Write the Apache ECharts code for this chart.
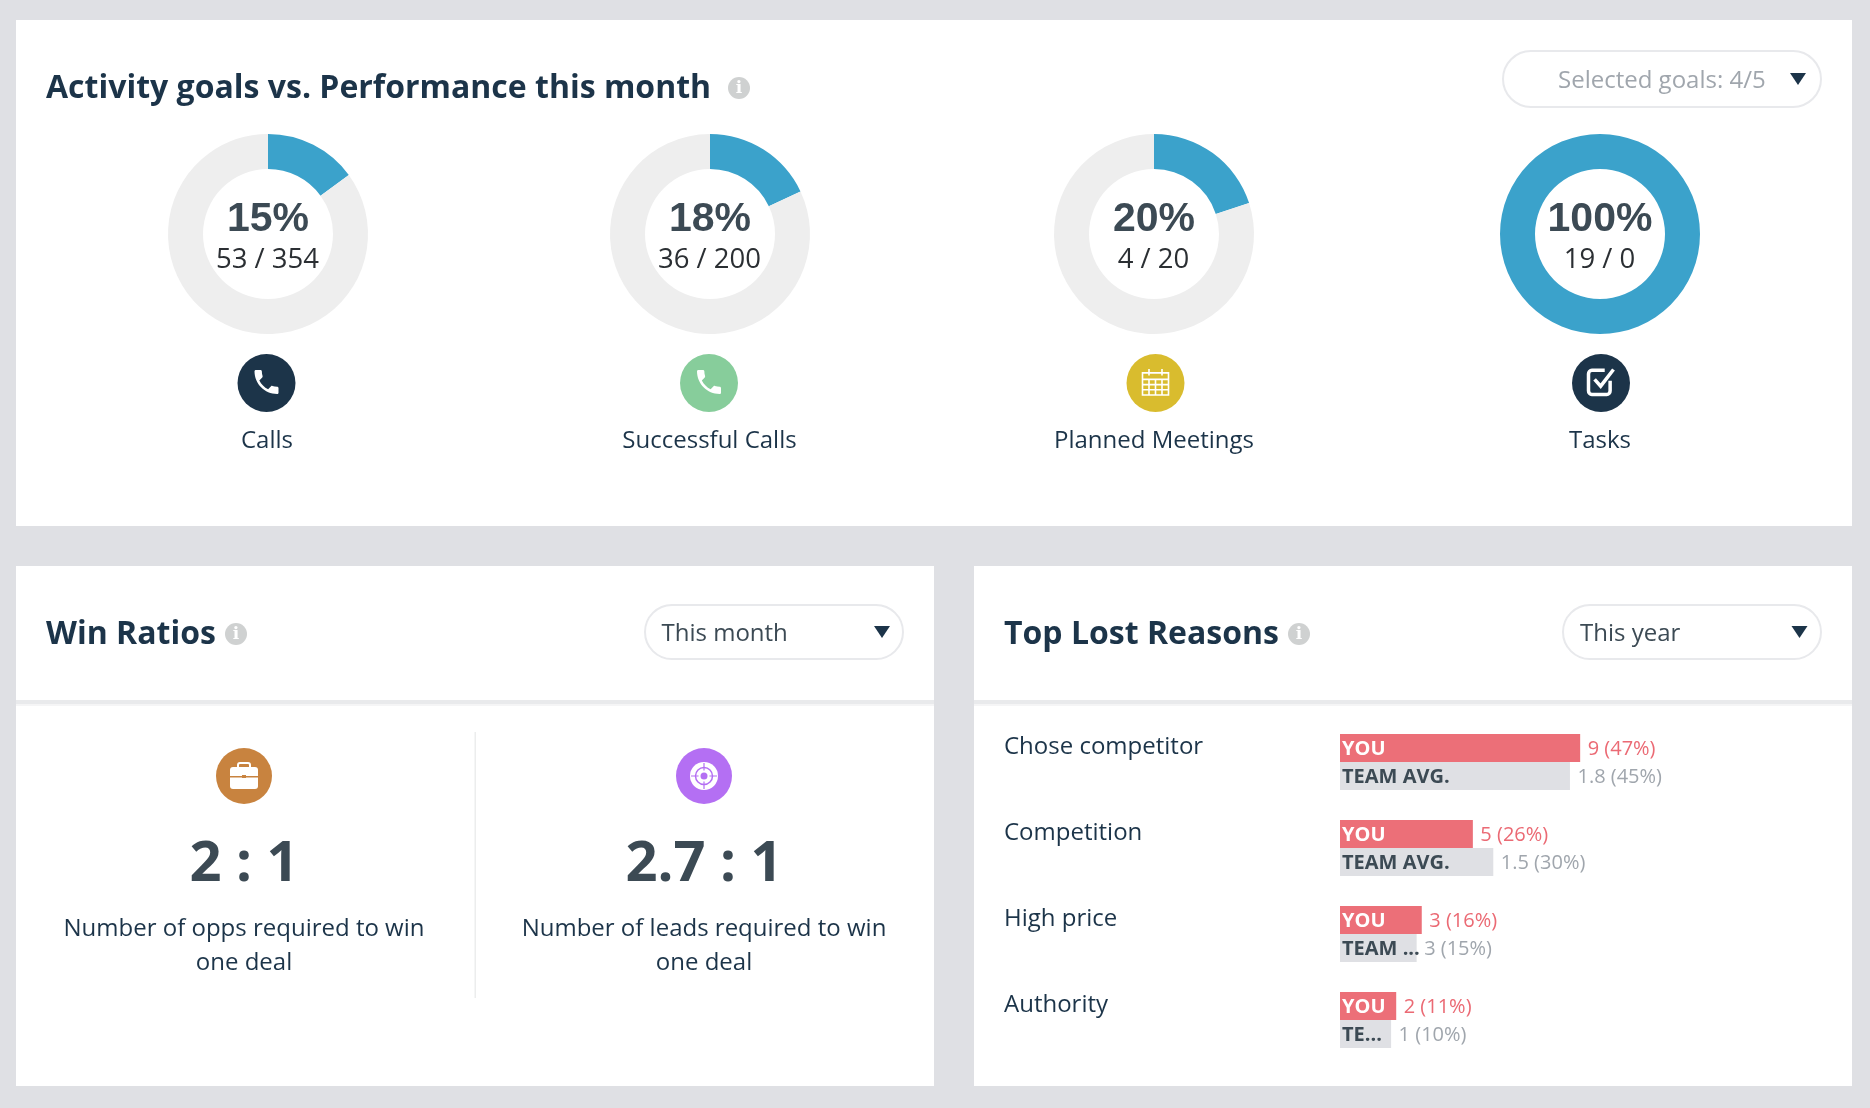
<!DOCTYPE html>
<html>
<head>
<meta charset="utf-8">
<style>html,body{margin:0;padding:0;background:#dfe0e4}#c{width:1870px;height:1108px}</style>
<script src="https://cdn.jsdelivr.net/npm/echarts@6/dist/echarts.min.js"></script>
</head>
<body>
<div id="c"></div>
<script>
// ---- data ----
const goalNames = ['Calls', 'Successful Calls', 'Planned Meetings', 'Tasks'];
const goalDone = [53, 36, 4, 19];
const goalTarget = [354, 200, 20, 0];
const goalPercent = ['15%', '18%', '20%', '100%'];
const ratioTexts = ['2 : 1', '2.7 : 1'];
const ratioCaptions = ['Number of opps required to win\none deal', 'Number of leads required to win\none deal'];
const reasons = ['Chose competitor', 'Competition', 'High price', 'Authority'];
const youPct = [47, 26, 16, 11];
const youLabels = ['9 (47%)', '5 (26%)', '3 (16%)', '2 (11%)'];
const teamPct = [45, 30, 15, 10];
const teamLabels = ['1.8 (45%)', '1.5 (30%)', '3 (15%)', '1 (10%)'];
const teamNames = ['TEAM AVG.', 'TEAM AVG.', 'TEAM ...', 'TE...'];

// ---- style ----
const F = '"Open Sans"';
const INK = '#1c3449', NUM = '#3c4a54', BLUE = '#3ba2cb', TRACK = '#eeeeee';
const RED = '#ec6f78', REDTXT = '#eb6a74', TEAM = '#dfe0e4', GREY = '#a0a6ad';
const goalX = [268, 710, 1154, 1600], goalY = 234;
const iconX = [266.5, 709, 1155.5, 1601];
const nameX = [267, 709.5, 1154, 1600];
const goalIconColors = ['#1c3449', '#87cd9b', '#d9bc2e', '#1c3449'];

const PHONE = 'M6.62 10.79c1.44 2.83 3.76 5.14 6.59 6.59l2.2-2.2c.27-.27.67-.36 1.02-.24 1.12.37 2.33.57 3.57.57.55 0 1 .45 1 1V20c0 .55-.45 1-1 1-9.39 0-17-7.61-17-17 0-.55.45-1 1-1h3.5c.55 0 1 .45 1 1 0 1.25.2 2.45.57 3.57.11.35.03.74-.25 1.02l-2.2 2.2z';
const CAL = 'M3 5h18v17H3z M3 10h18 M3 14h18 M3 18h18 M7.5 10v12 M12 10v12 M16.5 10v12 M7.5 2v5 M16.5 2v5';
const TASK = 'M19 12v6.5a2.5 2.5 0 0 1-2.5 2.5h-11A2.5 2.5 0 0 1 3 18.500V7.500A2.500 2.500 0 0 1 5.500 5H15 M7.500 11l4.500 4.500 9.500-11';
const CROSS = 'M12 0v7 M12 17v7 M0 12h7 M17 12h7';
const g = [];
const icons = [];
const rect = (x, y, w, h, fill, r) => g.push({type: 'rect', shape: {x, y, width: w, height: h, r: r || 0}, style: {fill}, silent: true});
const txt = (x, y, text, font, size, weight, fill, align) => g.push({type: 'text', x, y: y + 2, silent: true,
  style: {text, fontFamily: font, fontSize: size, fontWeight: weight, fill, align: align || 'center', verticalAlign: 'middle', lineHeight: 34}});
const circ = (cx, cy, r, fill, extra) => g.push({type: 'circle', shape: {cx, cy, r}, silent: true, style: Object.assign({fill}, extra || {})});
const path = (d, x, y, s, style) => icons.push({d, x, y, s, style});
const info = (cx, cy) => { circ(cx, cy, 11, '#cfd1d1'); g.push({type: 'text', x: cx, y: cy + 1, silent: true, style: {text: 'i', fontFamily: '"DejaVu Serif"', fontSize: 17, fontWeight: 'bold', fill: '#ffffff', align: 'center', verticalAlign: 'middle'}}); };
const dropdown = (x, y, w, h, text, tx, tColor, triX) => {
  g.push({type: 'rect', silent: true, shape: {x, y, width: w, height: h, r: h / 2}, style: {fill: '#fff', stroke: '#e8e9ec', lineWidth: 2}});
  txt(tx, y + h / 2, text, F, 24, 'normal', tColor, 'left');
  g.push({type: 'polygon', silent: true, shape: {points: [[triX - 8, y + h / 2 - 6], [triX + 8, y + h / 2 - 6], [triX, y + h / 2 + 6]]}, style: {fill: INK}});
};

// panels
rect(16, 20, 1836, 506, '#ffffff');
rect(16, 566, 918, 520, '#ffffff');
rect(974, 566, 878, 520, '#ffffff');
rect(16, 700, 918, 4, '#e9eaec');
rect(974, 700, 878, 4, '#e9eaec');
rect(16, 704, 918, 2, '#f5f5f6');
rect(974, 704, 878, 2, '#f5f5f6');
rect(474.500, 732, 1.500, 266, '#eceded');

// headers
txt(46, 87, 'Activity goals vs. Performance this month', F, 32, 'bold', INK, 'left');
info(739, 88);
txt(46, 633, 'Win Ratios', F, 32, 'bold', INK, 'left');
info(236, 634);
txt(1004, 633, 'Top Lost Reasons', F, 32, 'bold', INK, 'left');
info(1299, 634);
dropdown(1503, 51, 318, 56, 'Selected goals: 4/5', 1558, GREY, 1798);
dropdown(645, 605, 258, 54, 'This month', 661.5, '#3c4a54', 882);
dropdown(1563, 605, 258, 54, 'This year', 1580, '#3c4a54', 1799.5);

// goal texts and icons
goalNames.forEach((n, i) => {
  txt(goalX[i], 218, goalPercent[i], '"Liberation Sans"', 41, 'bold', NUM);
  txt(goalX[i] - 0.5, 258, goalDone[i] + ' / ' + goalTarget[i], F, 27.5, 'normal', '#2b2f33');
  circ(iconX[i], 383, 29, goalIconColors[i]);
  txt(nameX[i], 439, n, F, 24, 'normal', INK);
});
path(PHONE, iconX[0], 382, 24, {fill: '#fff'});
path(PHONE, iconX[1], 382, 24, {fill: '#fff'});
path(CAL, iconX[2], 382, 26, {fill: 'none', stroke: '#fff', lineWidth: 1.600});
path(TASK, iconX[3], 382, 25, {fill: 'none', stroke: '#fff', lineWidth: 3.500});

// win ratio block
const ratioX = [244, 704];
circ(ratioX[0], 776, 28, '#c8833f');
circ(ratioX[1], 776, 28, '#b46ff3');
g.push({type: 'rect', silent: true, shape: {x: 230, y: 767, width: 28, height: 22, r: 3}, style: {fill: '#fff'}});
g.push({type: 'rect', silent: true, shape: {x: 238, y: 763, width: 12, height: 6, r: 2}, style: {fill: 'none', stroke: '#fff', lineWidth: 2}});
rect(230, 776, 28, 1.500, '#c8833f');
rect(242, 775, 4, 3, '#c8833f');
circ(ratioX[1], 776, 14, '#ffffff');
circ(ratioX[1], 776, 8.500, 'none', {stroke: '#b46ff3', lineWidth: 1.500});
circ(ratioX[1], 776, 3.500, '#b46ff3');
path(CROSS, ratioX[1], 776, 26, {fill: 'none', stroke: '#b46ff3', lineWidth: 1.200});
ratioTexts.forEach((t, i) => {
  txt(ratioX[i], 863, t, F, 56, 'bold', NUM);
  txt(ratioX[i], 944, ratioCaptions[i], F, 24, 'normal', INK);
});

const pies = goalNames.map((n, i) => ({
  type: 'pie', silent: true, center: [goalX[i], goalY], radius: [65, 100], startAngle: 90, clockwise: true,
  label: {show: false}, labelLine: {show: false}, emphasis: {disabled: true}, animation: false,
  data: [
    {name: n, value: goalDone[i], itemStyle: {color: BLUE}},
    {name: 'rest', value: Math.max(goalTarget[i] - goalDone[i], 0), itemStyle: {color: TRACK}}
  ]
}));

const inLabel = (color) => ({show: true, position: 'insideLeft', distance: 2, offset: [0, 1.5], fontFamily: F, fontSize: 20, fontWeight: 'bold', color});
const endLabel = (arr, color) => ({show: true, position: 'right', distance: 7.5, offset: [0, 1.5], fontFamily: F, fontSize: 20, color,
  formatter: p => arr[p.dataIndex]});
const zeros = reasons.map(() => 0);

const iconSeries = {
  type: 'custom', coordinateSystem: 'none', silent: true, z: 5, data: icons.map((_, i) => [i]),
  renderItem: (params) => {
    const ic = icons[params.dataIndex];
    return {type: 'path', shape: {pathData: ic.d, x: ic.x - ic.s / 2, y: ic.y - ic.s / 2, width: ic.s, height: ic.s, layout: 'cover'}, style: ic.style};
  }
};

const option = {
  backgroundColor: '#dfe0e4',
  animation: false,
  graphic: {elements: g},
  grid: {left: 1340, top: 719, width: 511, height: 344, containLabel: false},
  xAxis: {type: 'value', min: 0, max: 100, show: false},
  yAxis: {type: 'category', inverse: true, data: reasons,
    axisLine: {show: false}, axisTick: {show: false}, splitLine: {show: false},
    axisLabel: {align: 'left', verticalAlign: 'bottom', lineHeight: 30, margin: 336, fontFamily: F, fontSize: 24, color: INK}},
  series: pies.concat([
    {type: 'bar', name: 'YOU', stack: 'you', barWidth: 28, barGap: 0, data: youPct, silent: true,
     itemStyle: {color: RED}, label: Object.assign(inLabel('#ffffff'), {formatter: 'YOU'})},
    {type: 'bar', name: 'YOU value', stack: 'you', barWidth: 28, barGap: 0, data: zeros, silent: true,
     itemStyle: {color: RED}, label: endLabel(youLabels, REDTXT)},
    {type: 'bar', name: 'TEAM AVG.', stack: 'team', barWidth: 28, barGap: 0, data: teamPct, silent: true,
     itemStyle: {color: TEAM}, label: Object.assign(inLabel(NUM), {formatter: p => teamNames[p.dataIndex]})},
    {type: 'bar', name: 'TEAM value', stack: 'team', barWidth: 28, barGap: 0, data: zeros, silent: true,
     itemStyle: {color: TEAM}, label: endLabel(teamLabels, GREY)},
    iconSeries
  ])
};
const chart = echarts.init(document.getElementById('c'), null, {renderer: 'canvas', width: 1870, height: 1108});
chart.setOption(option);
</script>
</body>
</html>
